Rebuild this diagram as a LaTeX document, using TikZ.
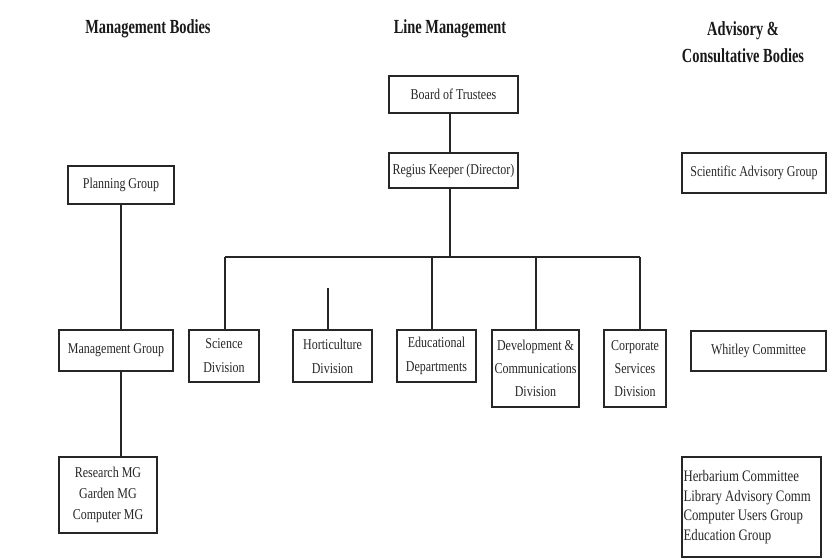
\documentclass[tikz,border=0pt]{standalone}
\usepackage{fontspec}
\setmainfont{Liberation Serif}
\newfontfamily\boxfont[FakeStretch=0.8]{Liberation Serif}
\newfontfamily\headfont[FakeStretch=0.72]{Liberation Serif}
\begin{document}
\begin{tikzpicture}[x=1pt,y=-1pt,
  heading/.style={font={\headfont\bfseries\fontsize{20}{27}\selectfont},align=center,inner sep=0pt,text=black!90},
  unit/.style={draw=black!85,line width=1.1pt,inner sep=0pt,align=center,text=black!85,
    font={\boxfont\fontsize{15}{23}\selectfont}},
  body/.style={unit,line width=2pt},
  link/.style={draw=black!85,line width=1.1pt}]
\useasboundingbox (0,0) rectangle (828,559);

% column headings
\node[heading] (hmb) at (148,29) {Management Bodies};
\node[heading] (hlm) at (450,29) {Line Management};
\node[heading] (hac) at (743,42) {Advisory \&\\Consultative Bodies};

% management bodies
\node[body,minimum width=106pt,minimum height=38pt] (plan) at (121,185) {Planning Group};
\node[body,minimum width=114pt,minimum height=41pt] (mgmt) at (116,350.5) {Management Group};
\node[body,minimum width=98pt,minimum height=76pt,font={\boxfont\fontsize{15}{21}\selectfont}] (rmg) at (108,495)
  {Research MG\\Garden MG\\Computer MG};

% line management
\node[unit,minimum width=129pt,minimum height=37pt] (board) at (453.5,94.5) {Board of Trustees};
\node[unit,minimum width=129pt,minimum height=35pt] (keeper) at (453.5,170.5) {Regius Keeper (Director)};
\node[unit,minimum width=70pt,minimum height=52pt,font={\boxfont\fontsize{15}{24}\selectfont}] (sci) at (224,356) {Science\\Division};
\node[unit,minimum width=79pt,minimum height=52pt,font={\boxfont\fontsize{15}{24}\selectfont}] (hort) at (332.5,356) {Horticulture\\Division};
\node[unit,minimum width=79pt,minimum height=52pt,font={\boxfont\fontsize{15}{24}\selectfont}] (edu) at (436.5,356) {Educational\\Departments};
\node[unit,minimum width=87pt,minimum height=77pt] (dev) at (535.5,368.5) {Development \&\\Communications\\Division};
\node[unit,minimum width=62pt,minimum height=77pt] (corp) at (635,368.5) {Corporate\\Services\\Division};

% advisory and consultative bodies
\node[body,minimum width=144pt,minimum height=40pt] (sag) at (754,173) {Scientific Advisory Group};
\node[body,minimum width=135pt,minimum height=40pt] (whit) at (758.5,351) {Whitley Committee};
\node[body,minimum width=139pt,minimum height=100pt] (herb) at (751.5,507) {};
\node[unit,draw=none,anchor=west,align=left,inner xsep=2pt,
  font={\boxfont\fontsize{16}{19.7}\selectfont}] (herbtext) at (herb.west)
  {Herbarium Committee\\Library Advisory Comm\\Computer Users Group\\Education Group};

% management chain
\draw[link] (plan.south) -- (plan.south |- mgmt.north);
\draw[link] (plan.south |- mgmt.south) -- (plan.south |- rmg.north);

% line management tree
\coordinate (top) at (450,0);
\coordinate (bar) at (450,257);
\draw[link] (top |- board.south) -- (top |- keeper.north);
\draw[link] (top |- keeper.south) -- (bar);
\coordinate (bl) at (225,257);
\coordinate (br) at (640,257);
\draw[link] (bl) -- (br);
\coordinate (dsci) at (225,257);
\coordinate (dhort) at (328,288);
\coordinate (dedu) at (432,257);
\coordinate (ddev) at (536,257);
\coordinate (dcorp) at (640,257);
\draw[link] (dsci) -- (dsci |- sci.north);
\draw[link] (dhort) -- (dhort |- hort.north);
\draw[link] (dedu) -- (dedu |- edu.north);
\draw[link] (ddev) -- (ddev |- dev.north);
\draw[link] (dcorp) -- (dcorp |- corp.north);
\end{tikzpicture}
\end{document}
